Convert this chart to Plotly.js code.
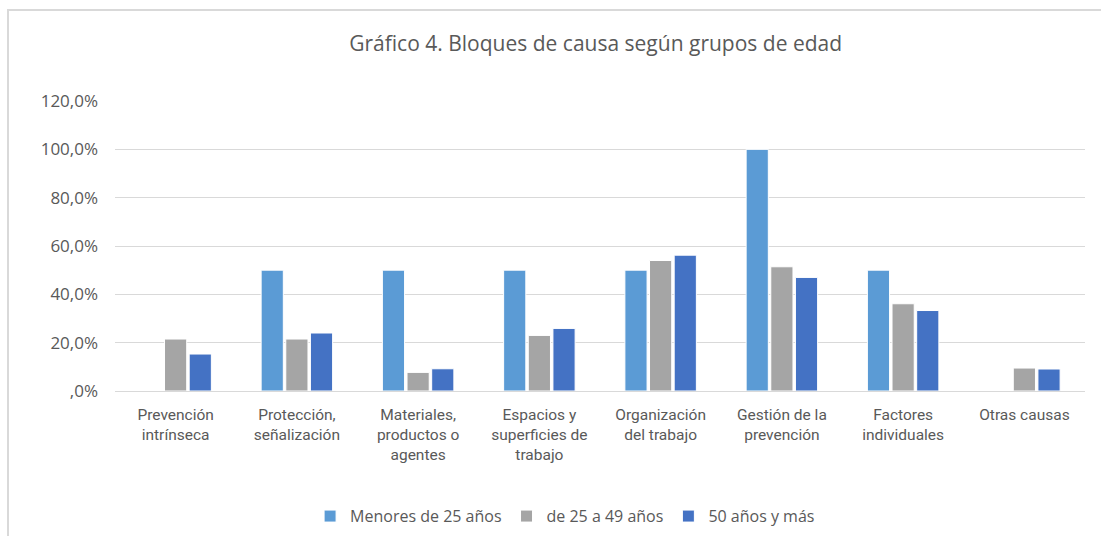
<!DOCTYPE html>
<html>
<head>
<meta charset="utf-8">
<script src="https://cdn.plot.ly/plotly-3.0.1.min.js"></script>
<style>
html,body{margin:0;padding:0;background:#fff;}
#frame{position:absolute;left:7px;top:9px;width:1094px;height:527px;border-left:2px solid #D9D9D9;border-top:2px solid #D9D9D9;box-sizing:border-box;}
#chart{position:absolute;left:0;top:0;width:1101px;height:536px;}
</style>
</head>
<body>
<div id="frame"></div>
<div id="chart"></div>
<script>
var categories = ["Prevención<br>intrínseca", "Protección,<br>señalización", "Materiales,<br>productos o<br>agentes", "Espacios y<br>superficies de<br>trabajo", "Organización<br>del trabajo", "Gestión de la<br>prevención", "Factores<br>individuales", "Otras causas"];
var seriesNames = ["Menores de 25 años", "de 25 a 49 años", "50 años y más"];
var menores25 = [0, 50.0, 50.0, 50.0, 50.0, 100.0, 50.0, 0];
var de25a49 = [21.5, 21.5, 7.7, 23.0, 54.0, 51.4, 36.1, 9.5];
var mayores50 = [15.3, 24.0, 9.2, 25.9, 56.2, 47.0, 33.3, 9.1];
var tickVals = [0, 20, 40, 60, 80, 100, 120];
var tickText = [",0%", "20,0%", "40,0%", "60,0%", "80,0%", "100,0%", "120,0%"];
var colors = ["#5B9BD5", "#A5A5A5", "#4472C4"];

var seriesVals = [menores25, de25a49, mayores50];
var traces = seriesVals.map(function(v, i){
  return {
    type: "bar",
    name: seriesNames[i],
    x: categories,
    y: v,
    marker: {color: colors[i], line: {color: "#FFFFFF", width: 1}},
    hoverinfo: "x+y+name"
  };
});

var layout = {
  width: 1101, height: 536,
  paper_bgcolor: "rgba(0,0,0,0)",
  plot_bgcolor: "rgba(0,0,0,0)",
  margin: {l: 115, r: 16, t: 101, b: 145},
  title: {text: "Gráfico 4. Bloques de causa según grupos de edad", x: 0.541, xanchor: "center", y: 0.918, yanchor: "middle",
          font: {family: "'Open Sans', sans-serif", size: 21, color: "#595959"}},
  barmode: "group",
  bargap: 0.39,
  bargroupgap: 0.1,
  xaxis: {
    showgrid: false, showline: false, zeroline: false, ticks: "",
    ticklabelstandoff: 12,
    tickfont: {family: "Roboto, sans-serif", size: 15.5, color: "#595959"},
    automargin: false
  },
  yaxis: {
    range: [0, 120], tickvals: tickVals, ticktext: tickText,
    showgrid: true, gridcolor: "#D9D9D9", gridwidth: 1,
    zeroline: true, zerolinecolor: "#D9D9D9", zerolinewidth: 1,
    showline: false, ticks: "", ticklabelstandoff: 16,
    tickfont: {family: "'Open Sans', sans-serif", size: 17, color: "#595959"},
    automargin: false, fixedrange: true
  },
  legend: {
    orientation: "h", xref: "paper", x: 0.464, xanchor: "center",
    yref: "container", y: 0.037, yanchor: "middle",
    font: {family: "'Open Sans', sans-serif", size: 16, color: "#595959"},
    itemwidth: 30, traceorder: "normal"
  },
  showlegend: true
};

Plotly.newPlot("chart", traces, layout, {displayModeBar: false, staticPlot: true});
</script>
</body>
</html>
